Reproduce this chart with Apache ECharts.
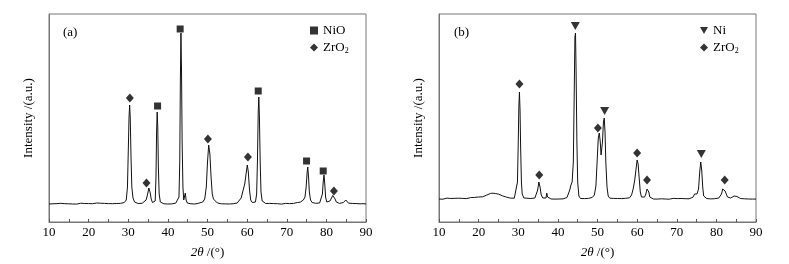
<!DOCTYPE html>
<html>
<head>
<meta charset="utf-8">
<script src="https://cdn.jsdelivr.net/npm/echarts@6/dist/echarts.min.js"></script>
<style>
  html, body { margin: 0; padding: 0; background: #fff; }
  #chart { width: 789px; height: 264px; }
</style>
</head>
<body>
<div id="chart"></div>
<script>
// x ticks (2theta, degrees)
const xTicks = { min: 10, max: 90, step: 10 }

// pattern (a): calcined sample, [2theta, intensity]
const curveA = [
  [10, 18], [10.5, 18.6], [11, 18.2], [11.5, 17.8], [12, 18.4], [12.5, 18.1], [13, 18.7], [13.5, 18.0],
  [14, 18.3], [14.5, 17.7], [15, 18.2], [15.5, 18.6], [16, 18.0], [16.5, 18.4], [17, 17.9], [17.5, 18.3],
  [18, 18.8], [18.5, 18.2], [19, 18.5], [19.5, 17.9], [20, 18.4], [20.5, 18.9], [21, 18.3], [21.5, 18.6],
  [22, 19.0], [22.5, 18.5], [23, 18.8], [23.5, 18.2], [24, 18.6], [24.5, 18.1], [25, 18.4], [25.5, 17.9],
  [26, 18.3], [26.5, 18.0], [27, 18.5], [27.5, 18.2], [28, 18.6], [28.5, 18.9], [29, 19.5], [29.5, 22],
  [29.8, 35], [30.0, 70], [30.2, 105], [30.35, 117], [30.5, 105], [30.7, 65], [30.9, 35], [31.2, 24],
  [31.6, 20], [32, 19], [32.5, 18.5], [33, 18.3], [33.5, 18.7], [34, 19.5], [34.5, 22], [34.9, 28],
  [35.2, 34], [35.5, 30], [35.8, 23], [36.1, 19.5], [36.5, 19], [36.8, 21], [37.0, 45], [37.15, 90],
  [37.3, 110], [37.45, 95], [37.6, 55], [37.8, 28], [38.1, 20], [38.5, 18.5], [39, 18.2], [39.5, 18.6],
  [40, 18.0], [40.5, 18.4], [41, 18.1], [41.5, 18.5], [42, 18.9], [42.5, 20], [42.8, 25], [43.0, 60],
  [43.15, 140], [43.3, 189], [43.45, 150], [43.6, 80], [43.8, 35], [44.0, 22], [44.2, 21], [44.4, 29],
  [44.6, 22], [44.9, 19], [45.3, 18.5], [45.8, 18.2], [46.3, 18.6], [46.8, 18.0], [47.3, 18.4], [47.8, 18.8],
  [48.3, 19.2], [48.8, 20], [49.3, 23], [49.7, 35], [50.0, 60], [50.3, 77], [50.6, 68], [50.9, 45],
  [51.2, 28], [51.5, 23], [51.7, 24], [52.0, 21], [52.5, 19], [53, 18.5], [53.5, 18.2], [54, 18.6],
  [54.5, 18.1], [55, 18.4], [55.5, 18.0], [56, 18.5], [56.5, 18.3], [57, 18.7], [57.5, 19.0], [58, 20],
  [58.5, 24], [59, 32], [59.4, 38], [59.8, 50], [60.05, 57], [60.3, 50], [60.6, 32], [60.9, 22],
  [61.3, 19.5], [61.7, 19], [62.1, 20], [62.4, 28], [62.6, 60], [62.8, 110], [62.95, 125], [63.1, 105],
  [63.3, 60], [63.5, 30], [63.8, 21], [64.2, 19], [64.7, 18.5], [65.2, 18.2], [65.7, 18.6], [66.2, 18.0],
  [66.7, 18.4], [67.2, 18.8], [67.7, 18.3], [68.2, 18.5], [68.7, 17.9], [69.2, 18.3], [69.7, 18.6], [70.2, 18.1],
  [70.7, 18.4], [71.2, 18.0], [71.7, 18.6], [72.2, 18.9], [72.7, 19.5], [73.0, 20.5], [73.4, 19.8], [73.8, 20.5],
  [74.2, 22], [74.6, 25], [74.9, 35], [75.15, 50], [75.3, 55], [75.5, 45], [75.7, 30], [76.0, 22],
  [76.4, 19.5], [76.8, 19], [77.3, 18.7], [77.8, 18.4], [78.3, 19], [78.7, 21], [79.0, 28], [79.2, 40],
  [79.4, 47], [79.6, 38], [79.8, 25], [80.1, 20], [80.5, 19.5], [80.9, 21], [81.3, 24], [81.6, 26.5],
  [81.9, 25], [82.2, 23], [82.5, 20], [82.9, 19], [83.3, 18.6], [83.8, 18.9], [84.3, 19.5], [84.7, 21.5],
  [84.9, 22], [85.2, 20], [85.6, 18.8], [86, 18.3], [86.5, 18.6], [87, 18.1], [87.5, 18.4], [88, 17.8],
  [88.5, 18.2], [89, 17.9], [89.5, 18.3], [90, 18.0]
]

// pattern (b): reduced sample
const curveB = [
  [10, 23], [10.5, 23.6], [11, 22.8], [11.5, 23.4], [12, 23.9], [12.5, 23.1], [13, 23.5], [13.5, 22.9],
  [14, 23.7], [14.5, 23.2], [15, 23.8], [15.5, 23.0], [16, 23.6], [16.5, 24.2], [17, 23.4], [17.5, 23.9],
  [18, 24.4], [18.5, 23.8], [19, 24.6], [19.5, 24.1], [20, 25.0], [20.5, 25.6], [21, 25.2], [21.5, 26.3],
  [22, 26.8], [22.5, 27.5], [23, 28.6], [23.3, 27.4], [23.6, 28.8], [24, 27.6], [24.3, 28.4], [24.7, 27.2],
  [25, 27.9], [25.5, 26.8], [26, 26.2], [26.5, 25.4], [27, 24.9], [27.5, 24.3], [28, 23.9], [28.5, 23.5],
  [29, 23.8], [29.5, 25], [29.8, 40], [30.0, 80], [30.15, 115], [30.3, 130], [30.45, 112], [30.6, 75],
  [30.8, 40], [31.0, 28], [31.4, 24], [31.8, 23.3], [32.2, 23.8], [32.7, 23.1], [33.2, 23.5], [33.7, 23.0],
  [34.2, 24], [34.6, 26], [34.9, 32], [35.2, 40], [35.5, 35], [35.8, 27], [36.2, 24], [36.6, 23.2],
  [37.0, 24], [37.2, 29], [37.4, 25], [37.8, 23.5], [38.3, 23.0], [38.8, 23.6], [39.3, 22.9], [39.8, 23.4],
  [40.3, 23.0], [40.8, 23.5], [41.3, 23.1], [41.8, 23.8], [42.3, 24.5], [42.7, 26.5], [43.0, 32], [43.3, 37],
  [43.6, 40], [43.9, 60], [44.1, 120], [44.3, 185], [44.45, 189], [44.6, 150], [44.8, 80], [45.0, 40],
  [45.3, 26], [45.7, 23.5], [46.2, 23.0], [46.7, 23.4], [47.2, 22.9], [47.7, 23.6], [48.2, 23.8], [48.7, 24.6],
  [49.2, 27], [49.6, 36], [49.9, 60], [50.2, 84], [50.45, 89], [50.7, 80], [50.9, 67], [51.05, 65],
  [51.25, 80], [51.5, 100], [51.7, 104], [51.9, 90], [52.1, 60], [52.4, 35], [52.7, 26], [53.1, 23.8],
  [53.6, 23.2], [54.1, 23.6], [54.6, 23.0], [55.1, 23.5], [55.6, 22.9], [56.1, 23.4], [56.6, 23.1], [57.1, 23.7],
  [57.6, 23.5], [58.1, 24.2], [58.6, 27], [59.0, 33], [59.4, 42], [59.7, 52], [60.0, 62], [60.25, 58],
  [60.5, 45], [60.8, 30], [61.1, 25], [61.5, 24.5], [61.9, 25], [62.2, 28], [62.5, 33], [62.7, 34],
  [62.95, 30], [63.2, 25], [63.6, 23.5], [64.1, 23.0], [64.6, 23.4], [65.1, 22.9], [65.6, 23.5], [66.1, 23.2],
  [66.6, 23.7], [67.1, 23.0], [67.6, 23.4], [68.1, 22.8], [68.6, 23.3], [69.1, 23.6], [69.6, 22.9], [70.1, 23.4],
  [70.6, 23.0], [71.1, 23.5], [71.6, 22.8], [72.1, 23.3], [72.6, 23.7], [73.1, 23.2], [73.6, 23.9], [74.1, 24.8],
  [74.5, 28], [74.8, 27.5], [75.1, 28], [75.5, 33], [75.8, 50], [76.05, 60], [76.3, 52], [76.55, 35],
  [76.8, 26], [77.2, 24], [77.6, 23.4], [78.1, 23.8], [78.6, 23.1], [79.1, 23.7], [79.6, 23.3], [80.1, 23.6],
  [80.6, 24], [81.0, 25.5], [81.3, 28], [81.6, 33], [81.8, 35], [82.0, 32], [82.2, 31], [82.5, 28],
  [82.8, 25], [83.2, 23.8], [83.6, 24], [84.0, 24.3], [84.5, 26], [84.9, 27], [85.2, 25.5], [85.6, 24],
  [86.1, 23.5], [86.6, 23.8], [87.1, 23.2], [87.6, 23.6], [88.1, 23.0], [88.6, 23.4], [89.1, 22.9], [89.6, 23.3],
  [90, 23.0]
]

// phase markers placed above the peaks
const niOMarksA = [[37.4, 116], [43.1, 193], [62.8, 131], [75.0, 61], [79.2, 51]]
const zrO2MarksA = [[30.4, 124], [34.6, 39], [50.1, 83], [60.2, 65], [81.9, 31]]
const niMarksB = [[44.4, 196], [51.8, 111], [76.2, 68]]
const zrO2MarksB = [[30.3, 138], [35.3, 47], [50.1, 94], [60.0, 69], [62.5, 42], [82.1, 42]]

const panelLabels = ['(a)', '(b)']
const xName = '{i|2θ} /(°)'
const yName = 'Intensity /(a.u.)'

const font = 'Liberation Serif'
const triDown = 'path://M0,0 L10,0 L5,9 Z'

const chart = echarts.init(document.getElementById('chart'))

const grids = [
  { left: 49, top: 14, width: 317, height: 208 },
  { left: 439, top: 14, width: 317, height: 208 }
]

const makeX = (i) => ({
  type: 'value',
  gridIndex: i,
  min: xTicks.min,
  max: xTicks.max,
  interval: xTicks.step,
  name: xName,
  nameLocation: 'middle',
  nameGap: 24,
  nameTextStyle: {
    color: '#000', fontFamily: font, fontSize: 13,
    rich: { i: { fontStyle: 'italic', fontFamily: font, fontSize: 13, color: '#000' } }
  },
  axisLine: { lineStyle: { color: '#777', width: 1 } },
  axisTick: { inside: true, length: 3, lineStyle: { color: '#555' } },
  minorTick: { show: true, splitNumber: 2, length: 3, lineStyle: { color: '#555' } },
  axisLabel: { color: '#000', fontFamily: font, fontSize: 13, margin: 4 },
  splitLine: { show: false }
})

const makeY = (i) => ({
  type: 'value',
  gridIndex: i,
  min: 0,
  max: 208,
  name: yName,
  nameLocation: 'middle',
  nameGap: 14,
  nameTextStyle: { color: '#000', fontFamily: font, fontSize: 13 },
  axisLine: { show: true, lineStyle: { color: '#777' } },
  axisTick: { show: false },
  axisLabel: { show: false },
  splitLine: { show: false }
})

const lineSeries = (data, i) => ({
  type: 'line',
  xAxisIndex: i,
  yAxisIndex: i,
  data: data,
  showSymbol: false,
  silent: true,
  lineStyle: { color: '#111', width: 1 }
})

const markSeries = (name, data, i, symbol, size) => ({
  name: name,
  type: 'scatter',
  xAxisIndex: i,
  yAxisIndex: i,
  data: data,
  symbol: symbol,
  symbolSize: size,
  itemStyle: { color: '#000' }
})

const legendBase = {
  orient: 'vertical',
  top: 19,
  itemWidth: 8,
  itemHeight: 8,
  itemGap: 4,
  textStyle: {
    color: '#000', fontFamily: font, fontSize: 13,
    rich: { s: { fontSize: 8, fontFamily: font, color: '#000', padding: [7, 0, 0, 0] } }
  },
  formatter: (name) => name === 'ZrO2' ? 'ZrO{s|2}' : name
}

const option = {
  animation: false,
  grid: grids.map(g => Object.assign({ show: true, borderColor: '#777', borderWidth: 1 }, g)),
  xAxis: [makeX(0), makeX(1)],
  yAxis: [makeY(0), makeY(1)],
  legend: [
    Object.assign({}, legendBase, {
      left: 305,
      data: [{ name: 'NiO', icon: 'rect' }, { name: 'ZrO2', icon: 'diamond' }]
    }),
    Object.assign({}, legendBase, {
      left: 695,
      data: [{ name: 'Ni', icon: triDown }, { name: 'ZrO2', icon: 'diamond' }]
    })
  ],
  graphic: [
    { type: 'text', left: 63, top: 26, style: { text: panelLabels[0], font: '13px "Liberation Serif"', fill: '#000' } },
    { type: 'text', left: 454, top: 26, style: { text: panelLabels[1], font: '13px "Liberation Serif"', fill: '#000' } }
  ],
  series: [
    lineSeries(curveA, 0),
    lineSeries(curveB, 1),
    markSeries('NiO', niOMarksA, 0, 'rect', 7),
    markSeries('ZrO2', zrO2MarksA, 0, 'diamond', [8, 9]),
    markSeries('Ni', niMarksB, 1, triDown, [9, 8]),
    markSeries('ZrO2', zrO2MarksB, 1, 'diamond', [8, 9])
  ]
}

chart.setOption(option)

window.addEventListener('resize', () => {
  chart.resize()
})
</script>
</body>
</html>
